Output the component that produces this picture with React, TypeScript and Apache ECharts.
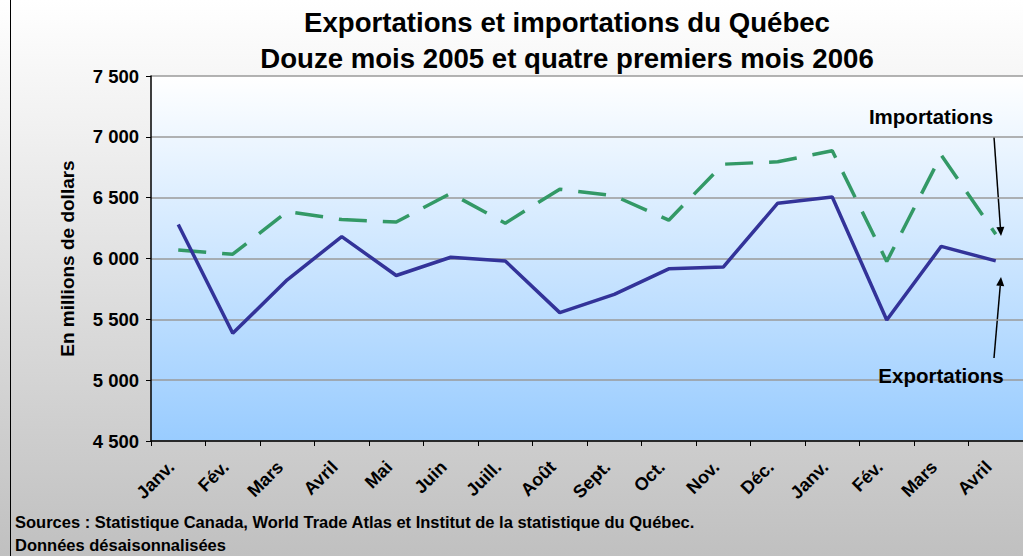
import React, { useEffect, useRef } from "react";
import * as echarts from "echarts";

const months = ["Janv.", "Fév.", "Mars", "Avril", "Mai", "Juin", "Juill.", "Août", "Sept.", "Oct.", "Nov.", "Déc.", "Janv.", "Fév.", "Mars", "Avril"];
const exportations = [6280, 5385, 5825, 6180, 5860, 6010, 5980, 5555, 5705, 5915, 5930, 6455, 6505, 5495, 6100, 5980];
const importations = [6070, 6035, 6385, 6320, 6300, 6535, 6290, 6570, 6515, 6315, 6775, 6795, 6885, 5975, 6850, 6200];
const yTicks = { min: 4500, max: 7500, interval: 500 };

const titleLine1 = "Exportations et importations du Québec";
const titleLine2 = "Douze mois 2005 et quatre premiers mois 2006";
const yName = "En millions de dollars";
const source1 = "Sources : Statistique Canada, World Trade Atlas et Institut de la statistique du Québec.";
const source2 = "Données désaisonnalisées";

const FONT = "'Liberation Sans', Arial, sans-serif";

function fmt(v: number) {
  const th = Math.floor(v / 1000);
  const rest = String(v % 1000).padStart(3, "0");
  return th + " " + rest;
}

function arrow(x1: number, y1: number, x2: number, y2: number) {
  const dx = x2 - x1, dy = y2 - y1;
  const len = Math.sqrt(dx * dx + dy * dy);
  const ux = dx / len, uy = dy / len;
  const hl = 9, hw = 4;
  const bx = x2 - ux * hl, by = y2 - uy * hl;
  return [
    { type: "line", shape: { x1, y1, x2: bx, y2: by }, style: { stroke: "#000", lineWidth: 1.5 } },
    {
      type: "polygon",
      shape: { points: [[x2, y2], [bx - uy * hw, by + ux * hw], [bx + uy * hw, by - ux * hw]] },
      style: { fill: "#000" },
    },
  ];
}

export default function App() {
  const ref = useRef<HTMLDivElement>(null);
  useEffect(() => {
    document.body.style.margin = "0";
    const chart = echarts.init(ref.current!, null, { renderer: "svg" });
    chart.setOption({
      animation: false,
      backgroundColor: new echarts.graphic.LinearGradient(0, 0, 0, 1, [
        { offset: 0, color: "#ffffff" },
        { offset: 1, color: "#c0c0c0" },
      ]),
      grid: {
        left: 151,
        top: 76,
        width: 874,
        height: 365,
        show: true,
        borderWidth: 0,
        backgroundColor: new echarts.graphic.LinearGradient(0, 0, 0, 1, [
          { offset: 0, color: "#ffffff" },
          { offset: 1, color: "#99ccff" },
        ]),
      },
      xAxis: {
        type: "category",
        data: months,
        boundaryGap: true,
        axisLine: { lineStyle: { color: "#000", width: 1.5 } },
        axisTick: { show: true, length: 5, lineStyle: { color: "#000" } },
        axisLabel: {
          rotate: 45,
          interval: 0,
          margin: 16,
          padding: [0, 10, 0, 0],
          color: "#000",
          fontFamily: FONT,
          fontWeight: "bold",
          fontSize: 18,
        },
      },
      yAxis: {
        type: "value",
        min: yTicks.min,
        max: yTicks.max,
        interval: yTicks.interval,
        name: yName,
        nameLocation: "middle",
        nameGap: 74,
        nameTextStyle: { color: "#000", fontFamily: FONT, fontWeight: "bold", fontSize: 19 },
        axisLine: { show: true, lineStyle: { color: "#000", width: 1.5 } },
        axisTick: { show: true, length: 5, lineStyle: { color: "#000" } },
        axisLabel: {
          margin: 12,
          color: "#000",
          fontFamily: FONT,
          fontWeight: "bold",
          fontSize: 18.5,
          formatter: (v: number) => fmt(v),
        },
        splitLine: { show: true, lineStyle: { color: "#9a9a9a", width: 1.5 } },
      },
      series: [
        {
          name: "Importations",
          type: "line",
          data: importations,
          symbol: "none",
          lineStyle: { color: "#339966", width: 3.5, type: [28, 16] },
          z: 2,
        },
        {
          name: "Exportations",
          type: "line",
          data: exportations,
          symbol: "none",
          lineStyle: { color: "#333399", width: 3.5 },
          z: 3,
        },
      ],
      graphic: [
        { type: "line", shape: { x1: 10.5, y1: 0, x2: 10.5, y2: 556 }, style: { stroke: "#000", lineWidth: 1 } },
        {
          type: "text", x: 567, y: 22,
          style: { text: titleLine1, align: "center", verticalAlign: "middle", font: `bold 27.6px ${FONT}`, fill: "#000" },
        },
        {
          type: "text", x: 567, y: 58,
          style: { text: titleLine2, align: "center", verticalAlign: "middle", font: `bold 27.6px ${FONT}`, fill: "#000" },
        },
        {
          type: "text", x: 931, y: 116, z: 10,
          style: { text: "Importations", align: "center", verticalAlign: "middle", font: `bold 20.5px ${FONT}`, fill: "#000" },
        },
        {
          type: "text", x: 941, y: 375, z: 10,
          style: { text: "Exportations", align: "center", verticalAlign: "middle", font: `bold 20.5px ${FONT}`, fill: "#000" },
        },
        ...arrow(994, 137, 1001, 236),
        ...arrow(994, 358, 1001, 277),
        {
          type: "text", x: 15, y: 522,
          style: { text: source1, align: "left", verticalAlign: "middle", font: `bold 16.5px ${FONT}`, fill: "#000" },
        },
        {
          type: "text", x: 15, y: 545,
          style: { text: source2, align: "left", verticalAlign: "middle", font: `bold 16.5px ${FONT}`, fill: "#000" },
        },
      ],
    });
    return () => chart.dispose();
  }, []);
  return <div ref={ref} style={{ width: 1023, height: 556 }} />;
}
